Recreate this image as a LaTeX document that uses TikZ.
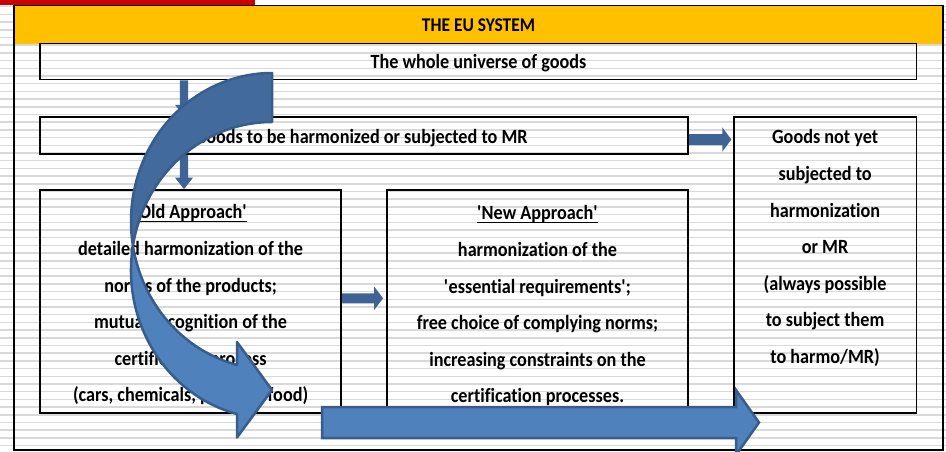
\documentclass[tikz,border=0pt]{standalone}
\usepackage{fontspec}
\setmainfont{Carlito}[FakeStretch=0.9,Ligatures=CommonOff]
\usetikzlibrary{calc}

\definecolor{ruling}{RGB}{217,217,217}
\definecolor{euyellow}{RGB}{255,192,0}
\definecolor{topred}{RGB}{204,0,0}
\definecolor{arrowdark}{RGB}{62,99,148}
\definecolor{ribbonback}{RGB}{66,106,156}
\definecolor{ribbonfront}{RGB}{79,129,189}
\definecolor{ribbonedge}{RGB}{56,93,138}

% underlined heading with a thin rule just below the baseline
\newcommand\undl[1]{\setbox0=\hbox{#1}\rlap{\rule[-3pt]{\wd0}{1.3pt}}\box0}
\newcommand\sq{\textquotesingle}

% flat block arrow pointing down: start, tip
\newcommand\vblock[2]{%
  \fill[arrowdark] ($(#1)+(-4.2,0)$) -- ($(#2)+(-4.2,-11.5)$) -- ($(#2)+(-9,-11.5)$)
    -- (#2) -- ($(#2)+(9,-11.5)$) -- ($(#2)+(4.2,-11.5)$) -- ($(#1)+(4.2,0)$) -- cycle;}
% flat block arrow pointing right: start, tip, half shaft, half head, head length
\newcommand\hblock[5]{%
  \fill[arrowdark] ($(#1)+(0,-#3)$) -- ($(#2)+(-#5,-#3)$) -- ($(#2)+(-#5,-#4)$)
    -- (#2) -- ($(#2)+(-#5,#4)$) -- ($(#2)+(-#5,#3)$) -- ($(#1)+(0,#3)$) -- cycle;}

\begin{document}
\begin{tikzpicture}[x=1pt,y=-1pt,
  box/.style={draw=black,line width=1.8pt,inner sep=0pt},
  txt/.style={font=\fontsize{20.2}{36.6}\selectfont\bfseries,align=center,inner sep=0pt},
  ribbon/.style={draw=ribbonedge,line width=2.5pt,line join=round}]

\useasboundingbox (0,0) rectangle (946,451);
\fill[white] (0,0) rectangle (946,451);

% ruled paper
\foreach \k in {1,...,58}
  \draw[ruling,line width=1.5pt] (0,{-1+7.7*\k}) -- (946,{-1+7.7*\k});

% top strip, title band and outer frame
\fill[topred] (0,0) rectangle (255,4.7);
\fill[euyellow] (14,5.5) rectangle (943,43.5);
\draw[line width=1.8pt] (14,5.5) rectangle (943,450);
\node[txt,font=\fontsize{19.4}{20}\selectfont\bfseries] (title) at (478.5,25.5) {THE EU SYSTEM};

% boxes
\node[box,minimum width=876.2pt,minimum height=36pt] (universe) at (478.4,61.5) {};
\node[box,minimum width=647.7pt,minimum height=37pt] (tobeh) at (364.15,135.7) {};
\node[box,minimum width=182.8pt,minimum height=295.8pt] (notyet) at (825.1,265.1) {};
\node[box,minimum width=300.7pt,minimum height=223.2pt] (old) at (190.65,301.6) {};
\node[box,minimum width=301pt,minimum height=223.2pt] (new) at (537.5,301.6) {};

% box texts
\node[txt] (universetxt) at ($(universe.center)+(0,2)$) {The whole universe of goods};
\node[txt] (tobehtxt) at ($(tobeh.center)+(-3,2.5)$) {Goods to be harmonized or subjected to MR};
\node[txt,anchor=north] (oldtxt) at (190.6,204.5) {%
  \undl{\sq Old Approach\sq}\\
  detailed harmonization of the\\
  norms of the products;\\
  mutual recognition of the\\
  certification process\\
  (cars, chemicals, pharma, food)};
\node[txt,anchor=north] (newtxt) at (537.5,205.5) {%
  \undl{\sq New Approach\sq}\\
  harmonization of the\\
  \sq essential requirements\sq;\\
  free choice of complying norms;\\
  increasing constraints on the\\
  certification processes.};
\node[txt,anchor=north] (notyettxt) at (825.1,129.5) {%
  Goods not yet\\
  subjected to\\
  harmonization\\
  or MR\\
  (always possible\\
  to subject them\\
  to harmo/MR)};

% small connectors
\vblock{184,0 |- universe.south}{184,0 |- tobeh.north}
\vblock{184,0 |- tobeh.south}{184,0 |- old.north}
\hblock{tobeh.east |- 0,139.5}{$(notyet.west |- 0,139.5)+(-1.5,0)$}{5.5}{12.2}{9}
\hblock{old.east |- 0,298.3}{$(new.west |- 0,298.3)+(-3,0)$}{5}{11.7}{9}

% curved ribbon arrow: back half, then front half with its head
\filldraw[ribbon,fill=ribbonback] (272,73)
  arc[start angle=270,end angle=170.49,x radius=141,y radius=148.3]
  arc[start angle=189.51,end angle=270,x radius=141,y radius=148.3] -- cycle;
\filldraw[ribbon,fill=ribbonfront] (132.94,245.8)
  arc[start angle=170.49,end angle=104.37,x radius=141,y radius=148.3]
  -- (237,342) -- (272,390) -- (237,437.5) -- (237,414)
  arc[start angle=104.37,end angle=189.51,x radius=141,y radius=148.3] -- cycle;

% long straight arrow along the bottom
\filldraw[ribbon,line join=miter,fill=ribbonfront]
  (322,407) -- (736,407) -- (736,390) -- (759,422.5) -- (736,455) -- (736,438) -- (322,438) -- cycle;

\end{tikzpicture}
\end{document}
